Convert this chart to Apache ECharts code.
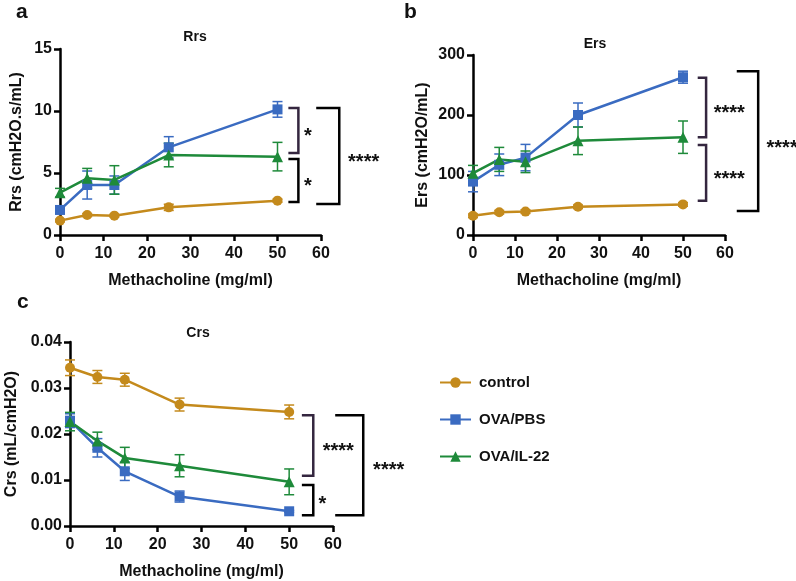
<!DOCTYPE html>
<html><head><meta charset="utf-8">
<script src="https://cdn.jsdelivr.net/npm/echarts@6/dist/echarts.min.js"></script>
<style>html,body{margin:0;padding:0;background:#fff}#c{width:796px;height:581px}</style>
</head><body><div id="c"></div>
<script>
// ---- data ----
const doses = [0, 6.25, 12.5, 25, 50];
const seriesNames = ['control', 'OVA/PBS', 'OVA/IL-22'];

const rrsControl = [1.16, 1.61, 1.56, 2.23, 2.77];
const rrsControlErr = [0.1, 0.12, 0.1, 0.25, 0.12];
const rrsPBS = [2.02, 4.03, 4.03, 7.07, 10.13];
const rrsPBSErr = [0.15, 1.13, 0.73, 0.86, 0.63];
const rrsIL22 = [3.41, 4.57, 4.44, 6.45, 6.32];
const rrsIL22Err = [0.35, 0.8, 1.15, 0.95, 1.15];

const ersControl = [32, 38, 39, 47, 51];
const ersControlErr = [3, 3, 3, 3, 3];
const ersPBS = [89, 117, 129, 200, 263];
const ersPBSErr = [17, 18, 22, 20, 10];
const ersIL22 = [103, 126, 122, 157, 163];
const ersIL22Err = [13, 20, 18, 23, 27];

const crsControl = [0.0344, 0.0324, 0.0318, 0.0264, 0.0248];
const crsControlErr = [0.0017, 0.0014, 0.0014, 0.0014, 0.0015];
const crsPBS = [0.0229, 0.0170, 0.0119, 0.0064, 0.0032];
const crsPBSErr = [0.0015, 0.002, 0.002, 0.0012, 0.0002];
const crsIL22 = [0.0227, 0.0185, 0.0148, 0.0131, 0.0096];
const crsIL22Err = [0.002, 0.0019, 0.0023, 0.0024, 0.0028];

const xTicks = [0, 10, 20, 30, 40, 50, 60];
const rrsTicks = [0, 5, 10, 15];
const ersTicks = [0, 100, 200, 300];
const crsTicks = [0.00, 0.01, 0.02, 0.03, 0.04];

// significance brackets: [x0, x1, yTop, yBottom, label, labelX, labelY, dark]
const bracketsA = [
  [52.5, 54.8, 10.24, 6.61, '*', 57.0, 8.4, true],
  [52.5, 54.8, 6.13, 2.66, '*', 57.0, 4.4, false],
  [58.9, 64.2, 10.24, 2.5, '****', 69.8, 6.37, false]
];
const bracketsB = [
  [53.5, 55.5, 262, 163, '****', 61.0, 212, true],
  [53.5, 55.5, 150, 57, '****', 61.0, 103, true],
  [62.8, 67.9, 273, 40, '****', 73.6, 155, false]
];
const bracketsC = [
  [52.9, 55.5, 0.02407, 0.01093, '****', 61.2, 0.0175, true],
  [52.9, 55.5, 0.00892, 0.00236, '*', 57.6, 0.0059, false],
  [60.5, 66.9, 0.02407, 0.00236, '****', 72.7, 0.0134, false]
];

// ---- styles ----
const COLORS = ['#C48A1C', '#3A6BC1', '#1E8A3A'];
const SYMBOLS = ['circle', 'rect', 'triangle'];
const SYMSIZE = [10, 10, 11];
const FONT = '"Liberation Sans", Arial, Helvetica, sans-serif';
const PURPLE = '#34263F';

const grids = [
  {left: 60, top: 49, width: 261, height: 186},
  {left: 473, top: 55, width: 252, height: 180},
  {left: 70, top: 342, width: 263, height: 186}
];

function xAxis(gi) {
  return {
    type: 'value', gridIndex: gi, min: xTicks[0], max: xTicks[xTicks.length - 1], interval: xTicks[1] - xTicks[0],
    name: 'Methacholine (mg/ml)', nameLocation: 'middle', nameGap: 38,
    nameTextStyle: {fontFamily: FONT, fontWeight: 'bold', fontSize: 16, color: '#111'},
    axisLine: {lineStyle: {color: '#000', width: 2.5}},
    axisTick: {lineStyle: {color: '#000', width: 2.5}, length: 6},
    axisLabel: {fontFamily: FONT, fontWeight: 'bold', fontSize: 16, color: '#111', margin: 11},
    splitLine: {show: false}
  };
}
function yAxis(gi, ticks, name, gap, fmt) {
  return {
    type: 'value', gridIndex: gi, min: ticks[0], max: ticks[ticks.length - 1], interval: ticks[1] - ticks[0],
    name: name, nameLocation: 'middle', nameGap: gap,
    nameTextStyle: {fontFamily: FONT, fontWeight: 'bold', fontSize: 16, color: '#111'},
    axisLine: {show: true, lineStyle: {color: '#000', width: 2.5}},
    axisTick: {show: true, lineStyle: {color: '#000', width: 2.5}, length: 6},
    axisLabel: {fontFamily: FONT, fontWeight: 'bold', fontSize: 16, color: '#111', margin: 8, formatter: fmt},
    splitLine: {show: false}
  };
}

function lineSeries(gi, idx, vals) {
  return {
    type: 'line', name: seriesNames[idx], xAxisIndex: gi, yAxisIndex: gi,
    data: doses.map((d, i) => [d, vals[i]]),
    symbol: SYMBOLS[idx], symbolSize: SYMSIZE[idx], showSymbol: true,
    lineStyle: {color: COLORS[idx], width: 2.5},
    itemStyle: {color: COLORS[idx]},
    z: 3
  };
}
function errSeries(gi, idx, vals, errs) {
  const color = COLORS[idx];
  return {
    type: 'custom', xAxisIndex: gi, yAxisIndex: gi, z: 2, silent: true,
    data: doses.map((d, i) => [d, vals[i], errs[i]]),
    renderItem: function (params, api) {
      const x = api.value(0), y = api.value(1), e = api.value(2);
      const t = api.coord([x, y + e]), b = api.coord([x, y - e]);
      const hw = 5;
      return {type: 'group', children: [
        {type: 'line', shape: {x1: t[0], y1: t[1], x2: b[0], y2: b[1]}, style: {stroke: color, lineWidth: 1.5}},
        {type: 'line', shape: {x1: t[0] - hw, y1: t[1], x2: t[0] + hw, y2: t[1]}, style: {stroke: color, lineWidth: 1.5}},
        {type: 'line', shape: {x1: b[0] - hw, y1: b[1], x2: b[0] + hw, y2: b[1]}, style: {stroke: color, lineWidth: 1.5}}
      ]};
    }
  };
}

const panelData = [
  [[rrsControl, rrsControlErr], [rrsPBS, rrsPBSErr], [rrsIL22, rrsIL22Err]],
  [[ersControl, ersControlErr], [ersPBS, ersPBSErr], [ersIL22, ersIL22Err]],
  [[crsControl, crsControlErr], [crsPBS, crsPBSErr], [crsIL22, crsIL22Err]]
];

const series = [];
panelData.forEach((pd, gi) => {
  pd.forEach((s, idx) => series.push(errSeries(gi, idx, s[0], s[1])));
  pd.forEach((s, idx) => series.push(lineSeries(gi, idx, s[0])));
});

const textStyleBold = (size) => ({fontFamily: FONT, fontWeight: 'bold', fontSize: size, fill: '#111'});

const chart = echarts.init(document.getElementById('c'), null, {renderer: 'canvas'});
chart.setOption({
  animation: false,
  backgroundColor: '#fff',
  grid: grids,
  xAxis: [xAxis(0), xAxis(1), xAxis(2)],
  yAxis: [
    yAxis(0, rrsTicks, 'Rrs (cmH2O.s/mL)', 35, v => String(v)),
    yAxis(1, ersTicks, 'Ers (cmH2O/mL)', 42, v => String(v)),
    yAxis(2, crsTicks, 'Crs (mL/cmH2O)', 50, v => v.toFixed(2))
  ],
  legend: {
    data: seriesNames, orient: 'vertical', left: 434, top: 370,
    itemWidth: 31, itemHeight: 13, itemGap: 22,
    textStyle: {fontFamily: FONT, fontWeight: 'bold', fontSize: 15, color: '#111', padding: [0, 0, 0, 3]},
    selectedMode: false
  },
  series: series
});

// ---- annotations ----
const graphics = [];
[['a', 16, 15], ['b', 404, 15], ['c', 17, 305]].forEach(([t, x, y]) => {
  graphics.push({type: 'text', left: x, top: y - 13, style: Object.assign({text: t}, textStyleBold(21))});
});
[['Rrs', 195, 37], ['Ers', 595, 44], ['Crs', 198, 333]].forEach(([t, x, y]) => {
  graphics.push({type: 'text', x: x, y: y, style: Object.assign({text: t, align: 'center', verticalAlign: 'middle'}, textStyleBold(14))});
});
[bracketsA, bracketsB, bracketsC].forEach((brs, gi) => {
  brs.forEach(b => {
    const p0 = chart.convertToPixel({gridIndex: gi}, [b[0], b[2]]);
    const p1 = chart.convertToPixel({gridIndex: gi}, [b[1], b[3]]);
    const col = b[7] ? PURPLE : '#000';
    graphics.push({type: 'polyline', shape: {points: [[p0[0], p0[1]], [p1[0], p0[1]], [p1[0], p1[1]], [p0[0], p1[1]]]},
      style: {stroke: col, lineWidth: 2.5, fill: null}});
    const lp = chart.convertToPixel({gridIndex: gi}, [b[5], b[6]]);
    graphics.push({type: 'text', x: lp[0], y: lp[1] + 6, style: Object.assign({text: b[4], align: 'center', verticalAlign: 'middle'}, textStyleBold(20))});
  });
});
chart.setOption({graphic: graphics});
</script></body></html>
